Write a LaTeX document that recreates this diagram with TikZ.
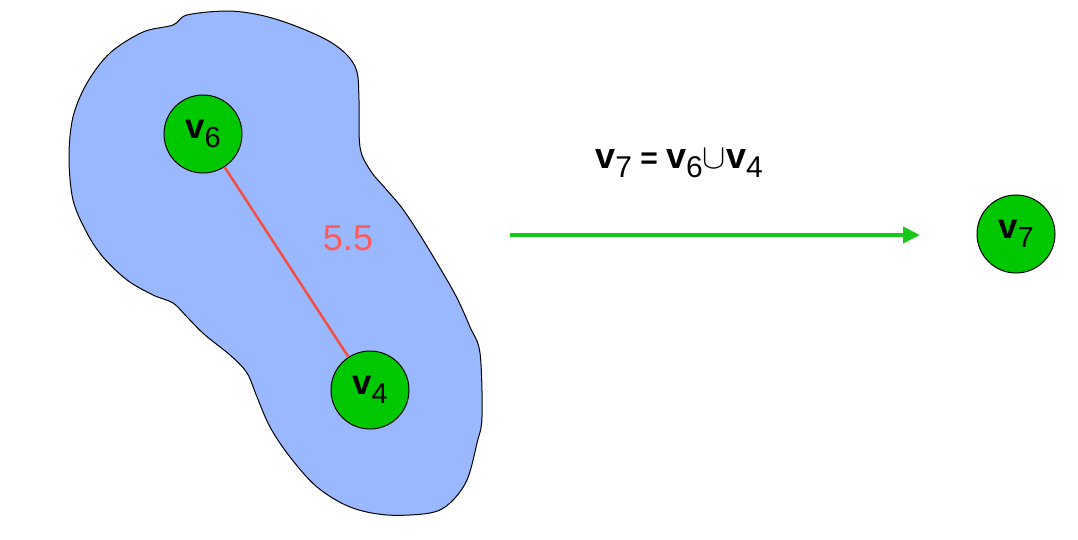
\documentclass[tikz,border=0pt]{standalone}
\usepackage{fontspec}
\setmainfont{Liberation Sans}
\usetikzlibrary{arrows.meta}
\definecolor{blobblue}{RGB}{154,184,255}
\definecolor{nodegreen}{RGB}{0,200,0}
\definecolor{edgered}{RGB}{244,78,66}
\definecolor{labelred}{RGB}{255,90,90}
\definecolor{arrowgreen}{RGB}{24,200,24}
\newcommand{\vname}[1]{{\bfseries\addfontfeature{Scale=1.2}v}\raisebox{-0.3em}{#1}}

\begin{document}
\begin{tikzpicture}[x=1pt,y=-1pt,
    main node/.style={circle,draw,fill=nodegreen,line width=1pt,minimum size=78pt,inner sep=0pt,font=\fontsize{29}{29}\selectfont},
    cluster/.style={draw,fill=blobblue,line width=1pt}]
  \useasboundingbox (0,0) rectangle (1078,540);
  \begin{scope}
    % cluster round v6 and v4
    \path[cluster] plot[smooth cycle,tension=0.55] coordinates {
      (187,15) (227,11) (260,15) (293,25) (327,40) (347,55) (357,72) (359,100)
      (360,147) (370,170) (385,188) (402,208) (420,235) (440,268) (457,298)
      (470,327) (480,353) (482,417) (477,443) (467,480) (450,503) (430,513)
      (387,515) (350,507) (317,487) (290,457) (270,427) (257,397) (247,373)
      (230,355) (205,335) (187,317) (173,303) (153,295) (127,280) (103,257)
      (87,233) (73,200) (69,157) (73,117) (87,83) (110,53) (143,32) (173,25)};
    \node[main node] (v6) at (203,134) {\vname{6}};
    \node[main node] (v4) at (370,390) {\vname{4}};
    \path (v6) edge[-,line width=2.5pt,edgered] (v4);
    \node[text=labelred,font=\fontsize{36}{36}\selectfont] (w64) at (348,238) {5.5};
  \end{scope}
  % merge step
  \coordinate (from) at (510,235);
  \coordinate (to) at (920,235);
  \draw[-{Triangle[length=17pt,width=16pt]},line width=4pt,arrowgreen] (from) -- (to);
  \node[font=\fontsize{30}{30}\selectfont] (merge) at (679,163) {\vname{7} \textbf{=} \vname{6}\scalebox{1.4}{$\cup$}\vname{4}};
  \node[main node] (v7) at (1016,234) {\vname{7}};
\end{tikzpicture}
\end{document}
